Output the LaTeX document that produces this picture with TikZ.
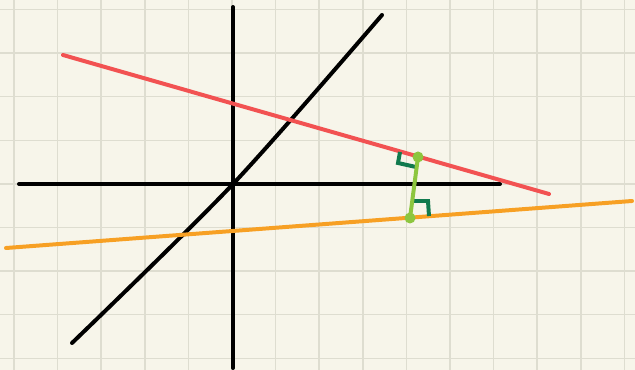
\documentclass[tikz,border=0pt]{standalone}
\usepackage{tikz}
\usepackage{xcolor}
\usetikzlibrary{calc}
\definecolor{paper}{HTML}{F7F5EA}
\definecolor{gridline}{HTML}{DEDDD0}
\definecolor{redline}{HTML}{F25252}
\definecolor{orangeline}{HTML}{F7A024}
\definecolor{greenseg}{HTML}{8DC63F}
\definecolor{markgreen}{HTML}{117A4E}

\begin{document}
\begin{tikzpicture}[x=0.03cm, y=-0.03cm, line width=3.4pt, line cap=round]
        \fill[paper] (0,0) rectangle (635,370);
        \useasboundingbox (0,0) rectangle (635,370);
        \foreach \i in {0,...,14} \draw[gridline, line width=1.3pt, line cap=butt] (14+43.6*\i,0) -- (14+43.6*\i,370);
        \foreach \j in {0,...,8} \draw[gridline, line width=1.3pt, line cap=butt] (0,9.5+43.6*\j) -- (635,9.5+43.6*\j);
        \coordinate (origin) at (233,184);
        \draw (233,7) -- (233,368);
        \draw (19,184) -- (500,184);
        \draw plot[smooth] coordinates {(72,343) (origin) (382,15)};
        \draw[redline] (63,55) -- (549,194);
        \draw[orangeline] (6,248) -- (632,201);
        \coordinate (foot1) at (418,157);
        \coordinate (foot2) at (410,218);
        \draw[markgreen, line width=3.4pt, line cap=butt] (400,152) -- (398,163) -- (416,167);
        \draw[markgreen, line width=3.4pt, line cap=butt] (412,201) -- (428,201) -- (429,216);
        \draw[greenseg, line width=3.4pt] (foot1) -- (foot2);
        \fill[greenseg] (foot1) circle (5.5);
        \fill[greenseg] (foot2) circle (5.5);
    \end{tikzpicture}
\end{document}
